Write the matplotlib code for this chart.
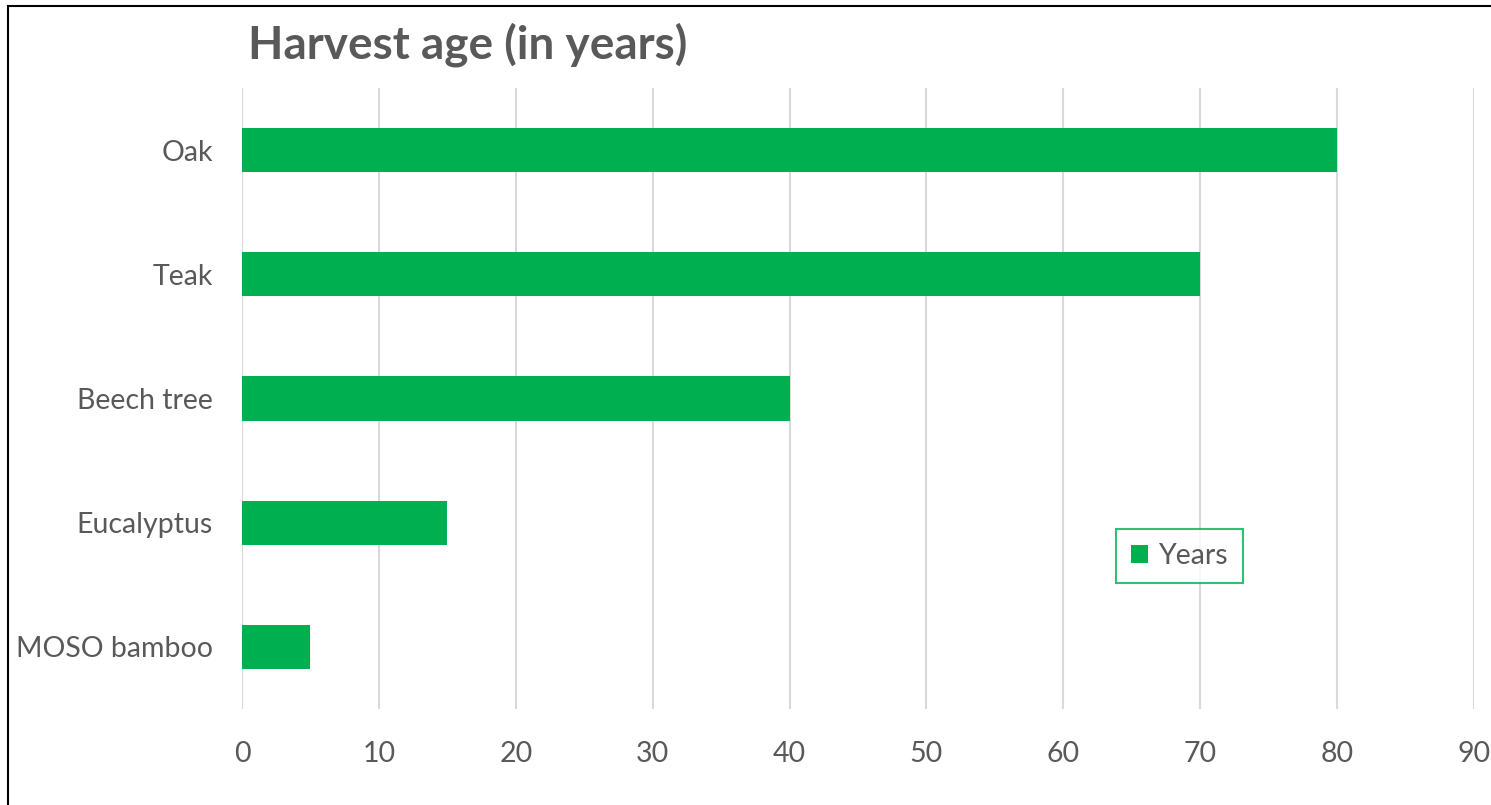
import matplotlib.pyplot as plt
from matplotlib.patches import Rectangle

species = ["MOSO bamboo", "Eucalyptus", "Beech tree", "Teak", "Oak"]
years = [5, 15, 40, 70, 80]
ticks = [0, 10, 20, 30, 40, 50, 60, 70, 80, 90]

green = "#00B050"
grey = "#595959"
plt.rcParams["font.family"] = ["Lato", "DejaVu Sans"]

fig = plt.figure(figsize=(14.91, 8.05), dpi=100)
ax = fig.add_axes([0.1623, 0.1193, 0.8263, 0.7714])

ax.barh(species, years, height=0.355, color=green, label="Years", zorder=3)
ax.set_xlim(0, 90)
ax.set_ylim(-0.5, 4.5)
ax.set_xticks(ticks)
ax.grid(axis="x", color="#D9D9D9", linewidth=1.5, zorder=0)
for s in ax.spines.values():
    s.set_visible(False)
ax.tick_params(length=0, labelsize=20.5, labelcolor=grey)
ax.tick_params(axis="x", pad=23)
ax.tick_params(axis="y", pad=21)

fig.text(248 / 1491, 1 - 45 / 805, "Harvest age (in years)", fontsize=33,
         fontweight="bold", color=grey, va="center", ha="left")

leg = ax.legend(loc="center", bbox_to_anchor=(0.761, 0.246), fontsize=20.5,
                frameon=True, fancybox=False, handlelength=0.6,
                handleheight=0.6, handletextpad=0.4, borderpad=0.5,
                labelcolor=grey)
leg.get_frame().set_edgecolor(green)
leg.get_frame().set_linewidth(1.5)

# chart border (only left and top visible in the crop)
fig.patches.append(Rectangle((8 / 1491, -0.1), 1.2, 1 - 6 / 805 + 0.1,
                             transform=fig.transFigure, fill=False,
                             edgecolor="black", linewidth=1.5))

fig.savefig("out.png", dpi=100)
